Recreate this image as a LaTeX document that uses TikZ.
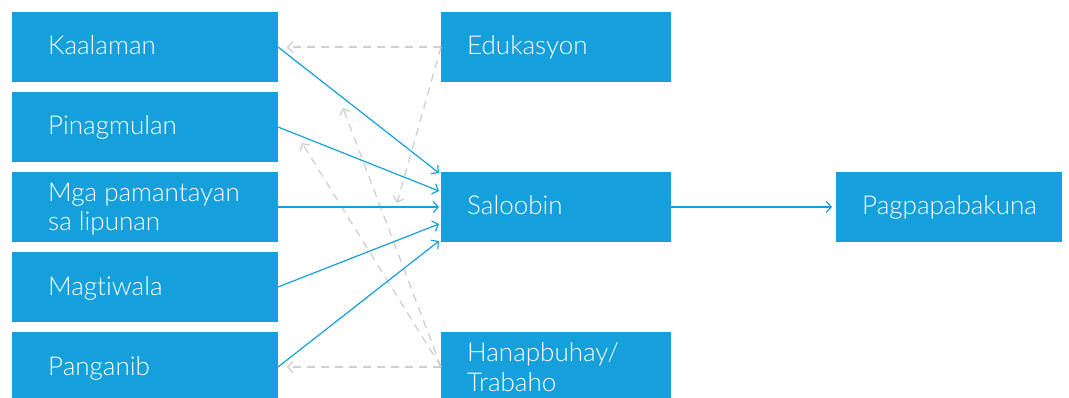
\documentclass[tikz,border=0pt]{standalone}
\usepackage{fontspec}
\setmainfont{Lato Light}[Ligatures=NoCommon]
\usetikzlibrary{arrows.meta}
\definecolor{boxblue}{HTML}{15A0DB}
\definecolor{dashgray}{HTML}{CFCFCF}
\tikzset{
  box/.style={fill=boxblue, draw=none, minimum height=70pt, inner sep=0pt, anchor=north west},
  lbl/.style={text=white, font=\fontsize{26}{29.5}\selectfont, align=left, anchor=base west, inner sep=0pt},
  flow/.style={draw=boxblue, line width=1.2pt, -{Straight Barb[length=5pt,width=11pt,line width=1.2pt]}},
  back/.style={draw=dashgray, line width=1.3pt, dash pattern=on 8pt off 6pt, -{Straight Barb[length=5pt,width=11pt,line width=1.3pt]}}
}
\begin{document}
\begin{tikzpicture}[x=1pt,y=-1pt]
\useasboundingbox (0,0) rectangle (1069,398);
\begin{scope}
\clip (0,0) rectangle (1069,398);
% left column
\node[box, minimum width=266pt] (k) at (12,12) {};
\node[box, minimum width=266pt] (p) at (12,92) {};
\node[box, minimum width=266pt] (m) at (12,172) {};
\node[box, minimum width=266pt] (t) at (12,252) {};
\node[box, minimum width=266pt, minimum height=74pt] (g) at (12,332) {};
% middle column
\node[box, minimum width=230pt] (e) at (441,12) {};
\node[box, minimum width=230pt] (s) at (441,172) {};
\node[box, minimum width=230pt, minimum height=74pt] (h) at (441,332) {};
% right
\node[box, minimum width=226pt] (v) at (836,172) {};
\end{scope}
% labels (base = baseline of last line)
\node[lbl] (kl) at (48,55) {Kaalaman};
\node[lbl] (pl) at (48,135) {Pinagmulan};
\node[lbl] (ml) at (48,231) {Mga pamantayan\\sa lipunan};
\node[lbl] (tl) at (48,295) {Magtiwala};
\node[lbl] (gl) at (48,375) {Panganib};
\node[lbl] (el) at (467,55) {Edukasyon};
\node[lbl] (sl) at (467,215) {Saloobin};
\node[lbl] (hl) at (467,391) {Hanapbuhay/\\Trabaho};
\node[lbl] (vl) at (862,215) {Pagpapabakuna};
% coordinates
\coordinate (kR) at (278,47);
\coordinate (pR) at (278,127);
\coordinate (mR) at (278,207);
\coordinate (tR) at (278,287);
\coordinate (gR) at (278,367);
\coordinate (s1) at (439,173);
\coordinate (s2) at (439,191);
\coordinate (s3) at (439,207);
\coordinate (s4) at (439,224);
\coordinate (s5) at (439,241);
\coordinate (sR) at (671,207);
\coordinate (vL) at (832,207);
\coordinate (eL) at (441,47);
\coordinate (hL) at (441,367);
\coordinate (kE) at (287,47);
\coordinate (gE) at (287,367);
\coordinate (d1) at (397,203);
\coordinate (d2) at (343,108);
\coordinate (d3) at (302,143);
% dashed
\draw[back] (eL) -- (kE);
\draw[back] (eL) -- (d1);
\draw[back] (hL) -- (d2);
\draw[back] (hL) -- (d3);
\draw[back] (hL) -- (gE);
% solid
\draw[flow] (kR) -- (s1);
\draw[flow] (pR) -- (s2);
\draw[flow] (mR) -- (s3);
\draw[flow] (tR) -- (s4);
\draw[flow] (gR) -- (s5);
\draw[flow] (sR) -- (vL);
\end{tikzpicture}
\end{document}
